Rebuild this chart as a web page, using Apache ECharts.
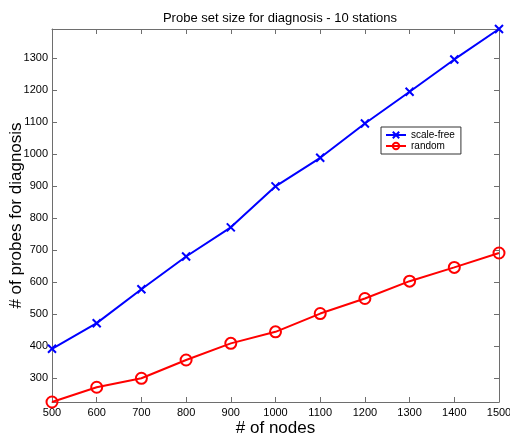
<!DOCTYPE html>
<html>
<head>
<meta charset="utf-8">
<script src="https://cdn.jsdelivr.net/npm/echarts@6/dist/echarts.min.js"></script>
<style>
  html, body { margin: 0; padding: 0; background: #fff; }
  #chart { width: 510px; height: 438px; }
</style>
</head>
<body>
<div id="chart"></div>
<script>
// Number of nodes in the network
const nodes = [500, 600, 700, 800, 900, 1000, 1100, 1200, 1300, 1400, 1500];
// Probe counts needed for diagnosis with 10 stations
const scaleFree = [392, 472, 578, 680, 771, 899, 988, 1095, 1194, 1295, 1390];
const random = [226, 272, 300, 357, 409, 445, 502, 549, 603, 646, 691];
// Tick values on the vertical axis
const yTicks = [300, 400, 500, 600, 700, 800, 900, 1000, 1100, 1200, 1300];

const FONT = '"Liberation Sans", Arial, sans-serif';
const AXIS_COLOR = '#6e6e6e';

const chart = echarts.init(document.getElementById('chart'), null, { renderer: 'canvas' });

const pair = (xs, ys) => xs.map((x, i) => [x, ys[i]]);
const plain = v => String(Math.round(v));

const xBase = {
  type: 'value', min: 500, max: 1500, interval: 100,
  axisLine: { show: true, lineStyle: { color: AXIS_COLOR, width: 1 } },
  axisTick: { show: true, inside: true, length: 5, lineStyle: { color: AXIS_COLOR } },
  splitLine: { show: false }
};
const yBase = {
  type: 'value', min: 226, max: 1390,
  axisLine: { show: true, lineStyle: { color: AXIS_COLOR, width: 1 } },
  axisTick: { show: true, inside: true, length: 5, customValues: yTicks, lineStyle: { color: AXIS_COLOR } },
  splitLine: { show: false }
};

chart.setOption({
  animation: false,
  backgroundColor: '#ffffff',
  title: {
    text: 'Probe set size for diagnosis - 10 stations',
    left: 275, top: 7, textAlign: 'center',
    textStyle: { fontFamily: FONT, fontSize: 13, fontWeight: 'normal', color: '#000' }
  },
  legend: {
    left: 381, top: 127,
    orient: 'vertical',
    itemWidth: 20, itemHeight: 8, itemGap: 1,
    padding: [3, 6, 3, 4],
    borderColor: '#333', borderWidth: 1,
    backgroundColor: '#fff',
    textStyle: { fontFamily: FONT, fontSize: 10, color: '#000' },
    data: ['scale-free', 'random']
  },
  grid: { left: 52, right: 11, top: 29, bottom: 36, containLabel: false, outerBoundsMode: 'none' },
  xAxis: [
    Object.assign({}, xBase, {
      position: 'bottom',
      name: '# of nodes', nameLocation: 'middle', nameGap: 18, nameMoveOverlap: false,
      nameTextStyle: { fontFamily: FONT, fontSize: 17, color: '#000', verticalAlign: 'top' },
      axisLabel: { show: true, margin: 5, formatter: plain, fontFamily: FONT, fontSize: 11, color: '#000' }
    }),
    Object.assign({}, xBase, { position: 'top', axisLabel: { show: false } })
  ],
  yAxis: [
    Object.assign({}, yBase, {
      position: 'left',
      name: '# of probes for diagnosis', nameLocation: 'middle', nameGap: 27, nameMoveOverlap: false,
      nameTextStyle: { fontFamily: FONT, fontSize: 17, color: '#000', verticalAlign: 'bottom' },
      axisLabel: { show: true, margin: 4, customValues: yTicks, formatter: plain, fontFamily: FONT, fontSize: 11, color: '#000' }
    }),
    Object.assign({}, yBase, { position: 'right', axisLabel: { show: false } })
  ],
  series: [
    {
      name: 'scale-free', type: 'line',
      data: pair(nodes, scaleFree),
      symbol: 'path://M0,0L10,10M10,0L0,10', symbolSize: 8,
      lineStyle: { color: '#0000ff', width: 2 },
      itemStyle: { color: '#0000ff', borderColor: '#0000ff', borderWidth: 2 },
      z: 3
    },
    {
      name: 'random', type: 'line',
      data: pair(nodes, random),
      symbol: 'circle', symbolSize: 11,
      lineStyle: { color: '#ff0000', width: 2 },
      itemStyle: { color: 'rgba(255,255,255,0)', borderColor: '#ff0000', borderWidth: 2 },
      clip: false,
      z: 3
    }
  ]
});
</script>
</body>
</html>
